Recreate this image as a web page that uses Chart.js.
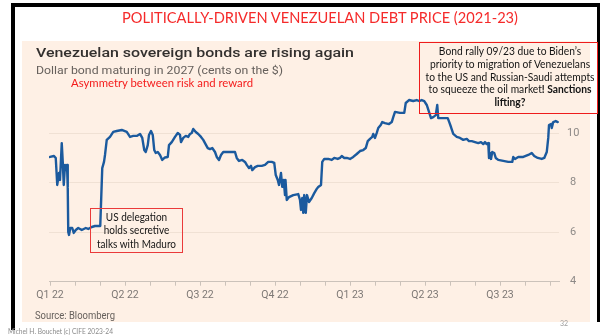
<!DOCTYPE html>
<html>
<head>
<meta charset="utf-8">
<script src="https://cdn.jsdelivr.net/npm/chart.js@4.4.0/dist/chart.umd.min.js"></script>
<style>
  html, body { margin: 0; padding: 0; background: #fff; }
  #page { position: relative; width: 606px; height: 335px; overflow: hidden; background: #fff; }
  .abs { position: absolute; white-space: nowrap; }
  .frame { position: absolute; background: #000; }
  #paper { position: absolute; left: 22px; top: 41px; width: 568px; height: 281px; background: #fef0e5; }
  #chart { position: absolute; left: 0; top: 0; }
  .calibri { font-family: Lato, "Open Sans", sans-serif; }
  .metric { font-family: Roboto, "Open Sans", sans-serif; }
  .box { position: absolute; border: 1px solid #ee1c1c; box-sizing: border-box; }
  .note { position: absolute; text-align: center; color: #141414; font-size: 11px; white-space: nowrap; }
  .note b { font-weight: 700; }
</style>
</head>
<body>
<div id="page">
  <div class="frame" style="left:11px; top:3px; width:589px; height:4px;"></div>
  <div class="frame" style="left:11px; top:3px; width:4px; height:327px;"></div>
  <div class="frame" style="left:597px; top:3px; width:3px; height:319px;"></div>
  <div id="paper"></div>

  <canvas id="chart" width="606" height="335"></canvas>

  <div class="abs calibri fit" data-w="396" style="left:121.7px; top:9px; font-size:16px; line-height:16px; color:#f52a2a;">POLITICALLY-DRIVEN VENEZUELAN DEBT PRICE (2021-23)</div>

  <div class="abs metric fit" data-w="318" style="left:35.7px; top:45.8px; font-size:13px; line-height:13px; font-weight:500; color:#33302e;">Venezuelan sovereign bonds are rising again</div>
  <div class="abs metric fit" data-w="247" style="left:35.7px; top:65.7px; font-size:10.5px; line-height:10.5px; color:#66605c;">Dollar bond maturing in 2027 (cents on the $)</div>
  <div class="abs calibri fit" data-w="182" style="left:71px; top:76.7px; font-size:12px; line-height:12px; color:#f41c1c;">Asymmetry between risk and reward</div>

  <div class="abs metric fit" data-w="80" style="left:35px; top:310.5px; font-size:10.5px; line-height:10.5px; color:#66605c;">Source: Bloomberg</div>
  <div class="abs calibri fit" data-w="105" style="left:8px; top:327px; font-size:8px; line-height:8px; color:#8a8a8a;">Michel H. Bouchet (c) CIFE 2023-24</div>
  <div class="abs calibri" style="left:560px; top:320px; font-size:7px; line-height:7px; color:#a0a0a0;">32</div>

  <div class="box" style="left:419px; top:42px; width:179px; height:72px;"></div>
  <div class="note calibri notefit" data-ref="r1" data-w="169" style="left:419px; top:45px; width:182px; line-height:12.8px;">Bond rally 09/23 due to Biden’s<br>priority to migration of Venezuelans<br><span id="r1">to the US and Russian-Saudi attempts</span><br>to squeeze the oil market<b>! Sanctions</b><br><b>lifting?</b></div>

  <div class="box" style="left:90px; top:208px; width:93px; height:45px; border-color:#ea3a3a;"></div>
  <div class="note calibri notefit" data-ref="r2" data-w="79" style="left:90px; top:209.5px; width:93px; line-height:13.5px;">US delegation<br>holds secretive<br><span id="r2">talks with Maduro</span></div>
</div>

<script>
// Dollar bond maturing 2027, price in cents on the dollar.
// Time is measured in months since 1 January 2022.
const months = [
  0.00, 0.16, 0.23, 0.29, 0.36, 0.40, 0.47, 0.51, 0.55, 0.60, 0.64, 0.68, 0.71, 0.73, 0.76, 0.81,
  0.89, 0.95, 1.03, 1.13, 1.27, 1.43, 1.53, 1.67, 1.80, 2.01, 2.09, 2.16, 2.20, 2.27, 2.40, 2.53,
  2.67, 2.87, 3.07, 3.20, 3.33, 3.47, 3.60, 3.69, 3.77, 3.83, 3.91, 3.96, 4.04, 4.11, 4.17, 4.23,
  4.31, 4.40, 4.49, 4.60, 4.71, 4.76, 4.87, 5.00, 5.11, 5.20, 5.24, 5.33, 5.43, 5.53, 5.60, 5.67,
  5.73, 5.83, 5.93, 6.04, 6.13, 6.20, 6.31, 6.40, 6.49, 6.60, 6.67, 6.76, 6.84, 6.93, 7.13, 7.40,
  7.47, 7.56, 7.69, 7.80, 7.87, 7.96, 8.04, 8.09, 8.20, 8.31, 8.47, 8.60, 8.73, 8.87, 8.97, 9.03,
  9.11, 9.16, 9.24, 9.29, 9.35, 9.40, 9.42, 9.47, 9.56, 9.73, 9.93, 10.00, 10.04, 10.09, 10.13, 10.17,
  10.23, 10.28, 10.36, 10.47, 10.57, 10.67, 10.73, 10.84, 10.89, 10.97, 11.13, 11.27, 11.37, 11.51, 11.60, 11.67,
  11.77, 11.87, 12.00, 12.13, 12.27, 12.40, 12.53, 12.63, 12.71, 12.80, 12.89, 12.93, 13.00, 13.07, 13.13, 13.23,
  13.29, 13.40, 13.56, 13.67, 13.73, 13.80, 14.00, 14.17, 14.23, 14.36, 14.53, 14.67, 14.76, 14.87, 14.97, 15.07,
  15.16, 15.24, 15.33, 15.43, 15.49, 15.53, 15.64, 15.80, 15.91, 15.97, 16.04, 16.13, 16.27, 16.40, 16.53, 16.67,
  16.76, 16.87, 17.00, 17.13, 17.24, 17.33, 17.40, 17.47, 17.53, 17.56, 17.60, 17.64, 17.69, 17.77, 17.83, 17.93,
  18.13, 18.33, 18.49, 18.53, 18.60, 18.73, 18.93, 19.13, 19.27, 19.37, 19.51, 19.67, 19.77, 19.87, 19.93, 19.96,
  20.04, 20.07, 20.13, 20.23, 20.31
];
const prices = [
  9.04, 9.08, 9.00, 7.91, 8.39, 8.11, 9.60, 8.84, 7.91, 8.72, 8.51, 8.72, 7.79, 6.01, 5.89, 6.17,
  6.17, 5.97, 6.09, 6.17, 6.09, 6.17, 6.13, 6.21, 6.25, 6.25, 8.59, 8.84, 9.12, 9.73, 9.85, 10.05,
  10.09, 10.13, 10.05, 9.85, 9.89, 9.89, 9.97, 9.81, 9.32, 9.24, 9.52, 9.93, 10.09, 9.93, 9.32, 9.20,
  9.24, 9.12, 8.92, 9.02, 9.04, 9.52, 9.64, 9.85, 10.01, 9.93, 9.64, 9.81, 9.89, 9.85, 9.97, 10.01,
  10.17, 10.05, 9.97, 9.85, 9.73, 9.60, 9.40, 9.36, 9.40, 9.24, 9.04, 8.92, 9.12, 9.24, 9.24, 9.24,
  9.00, 8.88, 8.92, 8.84, 8.72, 8.59, 8.68, 8.51, 8.63, 8.68, 8.68, 8.72, 8.84, 8.84, 8.80, 8.31,
  8.11, 7.91, 8.39, 7.83, 8.11, 7.50, 8.11, 7.30, 7.42, 7.50, 7.54, 7.30, 6.90, 7.38, 6.78, 7.50,
  6.78, 7.50, 7.22, 7.38, 7.58, 7.75, 7.83, 7.91, 8.84, 8.96, 8.96, 8.92, 9.00, 8.96, 9.00, 9.08,
  9.00, 9.00, 8.96, 9.04, 9.16, 9.28, 9.32, 9.40, 9.68, 9.77, 9.85, 9.97, 9.81, 10.01, 10.21, 10.33,
  10.45, 10.41, 10.37, 10.45, 10.65, 10.86, 10.82, 10.82, 11.22, 11.34, 11.30, 11.34, 11.30, 11.34, 11.30, 11.14,
  10.86, 10.61, 10.65, 10.73, 11.14, 10.61, 10.61, 10.61, 10.61, 10.45, 10.25, 9.97, 9.85, 9.81, 9.73, 9.77,
  9.68, 9.68, 9.64, 9.60, 9.64, 9.56, 9.64, 9.56, 9.60, 9.00, 9.20, 8.96, 9.24, 9.20, 9.00, 8.92,
  8.88, 8.84, 8.84, 9.04, 8.96, 9.04, 9.04, 9.12, 9.20, 9.08, 9.00, 8.96, 9.00, 9.24, 9.81, 10.33,
  10.37, 10.21, 10.45, 10.49, 10.45
];

// Axis ticks: one mark per month, labelled at the start of each quarter
const monthTicks = [0, 1, 2, 3, 4, 5, 6, 7, 8, 9, 10, 11, 12, 13, 14, 15, 16, 17, 18, 19, 20];
const quarterLabels = ['Q1 22', 'Q2 22', 'Q3 22', 'Q4 22', 'Q1 23', 'Q2 23', 'Q3 23'];
const priceTicks = [4, 6, 8, 10];

const points = months.map((m, i) => ({ x: m, y: prices[i] }));

new Chart(document.getElementById('chart'), {
  type: 'line',
  data: {
    datasets: [{
      data: points,
      borderColor: '#1b5a9e',
      borderWidth: 2.4,
      pointRadius: 0,
      tension: 0,
      borderJoinStyle: 'round',
      borderCapStyle: 'round',
      fill: false
    }]
  },
  options: {
    responsive: false,
    animation: false,
    devicePixelRatio: 1,
    layout: { padding: { left: 49, top: 93.6, right: 0, bottom: 31.3 } },
    plugins: { legend: { display: false }, tooltip: { enabled: false }, title: { display: false } },
    scales: {
      x: {
        type: 'linear',
        min: -0.04,
        max: 20.36,
        afterBuildTicks: s => { s.ticks = monthTicks.map(v => ({ value: v })); },
        afterFit: s => { s.height = 22; },
        grid: { drawOnChartArea: false, drawTicks: true, tickLength: 4, tickColor: '#cbc2ba', tickWidth: 1 },
        border: { display: true, color: '#cbc2ba', width: 1 },
        ticks: {
          autoSkip: false,
          maxRotation: 0,
          padding: 3,
          color: '#7d7875',
          font: { family: 'Roboto', size: 10.5 },
          callback: v => (v % 3 === 0 ? quarterLabels[v / 3] : '')
        }
      },
      y: {
        position: 'right',
        min: 4,
        max: 11.6,
        afterBuildTicks: s => { s.ticks = priceTicks.map(v => ({ value: v })); },
        afterFit: s => { s.width = 47; },
        grid: { color: '#f0e1d4', drawTicks: false, lineWidth: 1 },
        border: { display: false },
        ticks: {
          padding: 8,
          crossAlign: 'center',
          color: '#8e8a87',
          font: { family: 'Roboto', size: 11 }
        }
      }
    }
  }
});

// Compress each text run horizontally to its set width
function fitText() {
  document.querySelectorAll('.fit').forEach(el => {
    el.style.transform = '';
    const w = el.getBoundingClientRect().width;
    const k = parseFloat(el.dataset.w) / w;
    el.style.transformOrigin = 'left top';
    el.style.transform = 'scaleX(' + k + ')';
  });
  document.querySelectorAll('.notefit').forEach(el => {
    el.style.transform = '';
    const ref = document.getElementById(el.dataset.ref);
    const w = ref.getBoundingClientRect().width;
    const k = parseFloat(el.dataset.w) / w;
    el.style.transformOrigin = 'center top';
    el.style.transform = 'scaleX(' + k + ')';
  });
}
fitText();
if (document.fonts && document.fonts.ready) document.fonts.ready.then(fitText);
</script>
</body>
</html>
